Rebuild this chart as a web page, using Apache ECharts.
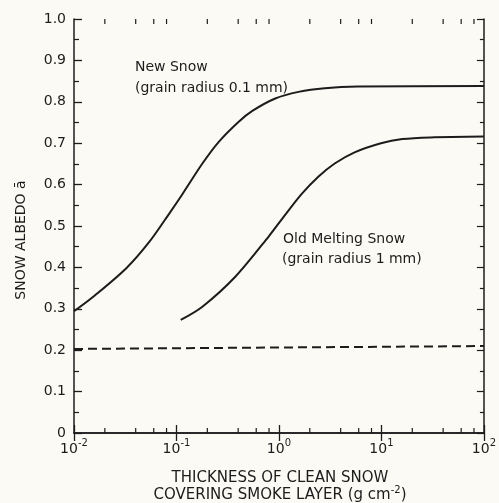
<!DOCTYPE html>
<html>
<head>
  <meta charset="utf-8">
  <title>Snow albedo</title>
  <script src="https://cdn.jsdelivr.net/npm/echarts@6/dist/echarts.min.js"></script>
  <style>
    html, body { margin: 0; padding: 0; background: #fbfaf4; }
  </style>
</head>
<body>
  <div id="main" style="width: 499px;height:503px;"></div>
  <script type="text/javascript">
    // thickness (g cm-2) vs albedo
    var newSnowX = [0.01, 0.0154, 0.0324, 0.0545, 0.085, 0.115, 0.179, 0.26, 0.405, 0.55, 0.92, 1.55, 2.8, 5.9, 100];
    var newSnowY = [0.294, 0.329, 0.398, 0.462, 0.530, 0.578, 0.651, 0.704, 0.752, 0.778, 0.808, 0.824, 0.833, 0.837, 0.838];
    var oldSnowX = [0.11, 0.179, 0.377, 0.79, 1.15, 1.66, 2.42, 3.5, 5.47, 9.9, 16, 30, 100];
    var oldSnowY = [0.273, 0.305, 0.378, 0.474, 0.527, 0.577, 0.619, 0.651, 0.678, 0.700, 0.710, 0.714, 0.716];
    var dashX = [0.01, 100];
    var dashY = [0.203, 0.21];
    var minorTicks = [0.02, 0.04, 0.06, 0.08, 0.2, 0.4, 0.6, 0.8, 2, 4, 6, 8, 20, 40, 60, 80];
    var xExponents = {'-2': '-2', '-1': '-1', '0': '0', '1': '1', '2': '2'};

    function pairs(xs, ys) {
      return xs.map(function (x, i) { return [x, ys[i]]; });
    }

    var ink = '#1c1c1c';
    var font = 'DejaVu Sans';
    var myChart = echarts.init(document.getElementById('main'));

    myChart.setOption({
      backgroundColor: '#fbfaf4',
      animation: false,
      grid: { left: 74, right: 12, top: 19, bottom: 70 },
      xAxis: [{
        type: 'log',
        logBase: 10,
        min: 0.01,
        max: 100,
        position: 'bottom',
        axisLine: { lineStyle: { color: ink, width: 1.5 } },
        axisTick: { inside: true, length: 8, lineStyle: { color: ink, width: 1.3 } },
        splitLine: { show: false },
        axisLabel: {
          color: ink, fontFamily: font, margin: 5,
          formatter: function (v) {
            return '{b|10}{s|' + xExponents[Math.round(Math.log10(v))] + '}';
          },
          rich: {
            b: { fontSize: 14, fontFamily: font, color: ink },
            s: { fontSize: 10, fontFamily: font, color: ink, padding: [0, 0, 12, 0] }
          }
        }
      }, {
        type: 'log',
        logBase: 10,
        min: 0.01,
        max: 100,
        position: 'top',
        axisLine: { lineStyle: { color: ink, width: 1.5 } },
        axisTick: { inside: true, length: 8, lineStyle: { color: ink, width: 1.3 } },
        splitLine: { show: false },
        axisLabel: { show: false }
      }],
      yAxis: [{
        type: 'value',
        min: 0,
        max: 1,
        interval: 0.1,
        position: 'left',
        axisLine: { show: true, lineStyle: { color: ink, width: 1.5 } },
        axisTick: { inside: true, length: 8, lineStyle: { color: ink, width: 1.3 } },
        minorTick: { show: true, splitNumber: 2, length: 5, lineStyle: { color: ink, width: 1.2 } },
        splitLine: { show: false },
        axisLabel: {
          color: ink, fontSize: 14, fontFamily: font, margin: 8,
          formatter: function (v) { return v === 0 ? '0' : v.toFixed(1); }
        }
      }, {
        type: 'value',
        min: 0,
        max: 1,
        interval: 0.1,
        position: 'right',
        axisLine: { show: true, lineStyle: { color: ink, width: 1.5 } },
        axisTick: { inside: true, length: 7, lineStyle: { color: ink, width: 1.2 } },
        minorTick: { show: true, splitNumber: 2, length: 4, lineStyle: { color: ink, width: 1.2 } },
        splitLine: { show: false },
        axisLabel: { show: false }
      }],
      graphic: [
        { type: 'text', left: 135, top: 60, style: { text: 'New Snow', font: '14px "DejaVu Sans"', fill: ink } },
        { type: 'text', left: 135, top: 81, style: { text: '(grain radius 0.1 mm)', font: '14px "DejaVu Sans"', fill: ink } },
        { type: 'text', left: 283, top: 232, style: { text: 'Old Melting Snow', font: '14px "DejaVu Sans"', fill: ink } },
        { type: 'text', left: 282, top: 252, style: { text: '(grain radius 1 mm)', font: '14px "DejaVu Sans"', fill: ink } },
        { type: 'text', x: 280, y: 478, style: { text: 'THICKNESS OF CLEAN SNOW', font: '15px "DejaVu Sans"', fill: ink, align: 'center', verticalAlign: 'middle' } },
        { type: 'text', x: 280, y: 495, style: {
          text: '{t|COVERING SMOKE LAYER (g cm}{s|-2}{t|)}',
          rich: {
            t: { fontSize: 15, fontFamily: font, fill: ink },
            s: { fontSize: 10, fontFamily: font, fill: ink, padding: [0, 0, 9, 0] }
          },
          fill: ink, align: 'center', verticalAlign: 'middle'
        } },
        { type: 'text', x: 21, y: 240, rotation: Math.PI / 2, style: { text: 'SNOW ALBEDO ā', font: '14px "DejaVu Sans"', fill: ink, align: 'center', verticalAlign: 'middle' } }
      ],
      series: [{
        type: 'line',
        data: pairs(newSnowX, newSnowY),
        smooth: 0.3,
        showSymbol: false,
        lineStyle: { color: ink, width: 2 }
      }, {
        type: 'line',
        data: pairs(oldSnowX, oldSnowY),
        smooth: 0.3,
        showSymbol: false,
        lineStyle: { color: ink, width: 2 }
      }, {
        type: 'line',
        data: pairs(dashX, dashY),
        showSymbol: false,
        lineStyle: { color: ink, width: 2, type: [9, 5] }
      }, {
        // minor log ticks (2, 4, 6, 8 per decade) on bottom and top
        type: 'custom',
        data: minorTicks.map(function (x) { return [x]; }),
        clip: false,
        renderItem: function (params, api) {
          var b = api.coord([api.value(0), 0]);
          var t = api.coord([api.value(0), 1]);
          var st = { stroke: ink, lineWidth: 1.2 };
          return {
            type: 'group',
            children: [
              { type: 'line', shape: { x1: b[0], y1: b[1], x2: b[0], y2: b[1] - 5 }, style: st },
              { type: 'line', shape: { x1: t[0], y1: t[1], x2: t[0], y2: t[1] + 5 }, style: st }
            ]
          };
        }
      }]
    });
  </script>
</body>
</html>
